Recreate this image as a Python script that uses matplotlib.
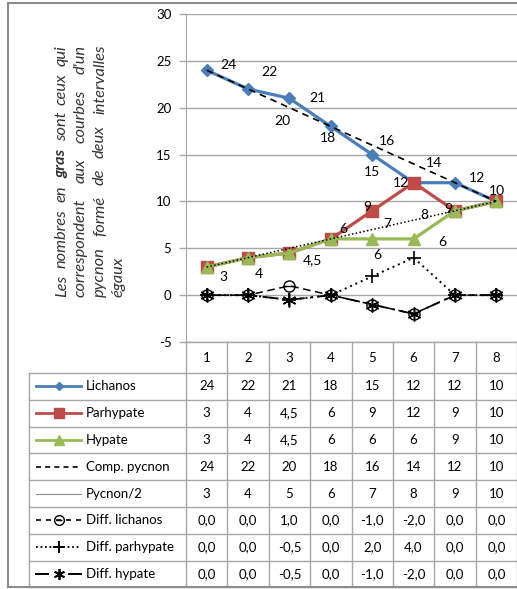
import matplotlib
matplotlib.use('Agg')
import matplotlib.pyplot as plt
from matplotlib.lines import Line2D

# ---------------- data ----------------
categories = [1, 2, 3, 4, 5, 6, 7, 8]
lichanos = [24, 22, 21, 18, 15, 12, 12, 10]
parhypate = [3, 4, 4.5, 6, 9, 12, 9, 10]
hypate = [3, 4, 4.5, 6, 6, 6, 9, 10]
comp_pycnon = [24, 22, 20, 18, 16, 14, 12, 10]
pycnon_half = [3, 4, 5, 6, 7, 8, 9, 10]
diff_lichanos = [0.0, 0.0, 1.0, 0.0, -1.0, -2.0, 0.0, 0.0]
diff_parhypate = [0.0, 0.0, -0.5, 0.0, 2.0, 4.0, 0.0, 0.0]
diff_hypate = [0.0, 0.0, -0.5, 0.0, -1.0, -2.0, 0.0, 0.0]
series_names = ['Lichanos', 'Parhypate', 'Hypate', 'Comp. pycnon', 'Pycnon/2',
                'Diff. lichanos', 'Diff. parhypate', 'Diff. hypate']
yticks = [-5, 0, 5, 10, 15, 20, 25, 30]
note_lines = [
    [('Les', 'normal'), ('nombres', 'normal'), ('en', 'normal'), ('gras', 'bold'),
     ('sont', 'normal'), ('ceux', 'normal'), ('qui', 'normal')],
    [('correspondent', 'normal'), ('aux', 'normal'), ('courbes', 'normal'), ("d'un", 'normal')],
    [('pycnon', 'normal'), ('formé', 'normal'), ('de', 'normal'), ('deux', 'normal'),
     ('intervalles', 'normal')],
    [('égaux', 'normal')],
]

FONT = ['Lato', 'DejaVu Sans']
plt.rcParams['font.family'] = FONT

W, H = 517, 589
fig = plt.figure(figsize=(W / 100, H / 100), dpi=100)


def fx(px):
    return px / W


def fy(py):
    return 1 - py / H


GRID = '#A6A6A6'
BLUE = '#4A7EBB'
RED = '#BE4B48'
GREEN = '#98B954'

AX_L, AX_R, AX_T, AX_B = 186, 517, 14, 342
ax = fig.add_axes([fx(AX_L), fy(AX_B), (AX_R - AX_L) / W, (AX_B - AX_T) / H])
ax.set_xlim(0.5, 8.5)
ax.set_ylim(-5, 30)
ax.set_yticks(yticks)
ax.set_yticklabels([str(v) for v in yticks])
ax.set_xticks([])
for s in ['top', 'right', 'bottom']:
    ax.spines[s].set_visible(False)
ax.spines['left'].set_color(GRID)
ax.tick_params(axis='y', length=5, width=1, color=GRID, pad=5.5, labelsize=9.5)
ax.yaxis.grid(True, color=GRID, lw=1)
ax.set_axisbelow(True)
ax.patch.set_alpha(0)

x = categories
ax.plot(x, lichanos, color=BLUE, lw=2.3, marker='D', ms=6, mfc=BLUE, mec=BLUE, zorder=3)
ax.plot(x, parhypate, color=RED, lw=2.3, marker='s', ms=8, mfc=RED, mec=RED, zorder=3)
ax.plot(x, hypate, color=GREEN, lw=2.3, marker='^', ms=8, mfc=GREEN, mec=GREEN, zorder=3)
ax.plot(x, comp_pycnon, color='black', lw=1.2, ls=(0, (4, 3)), zorder=4)
ax.plot(x, pycnon_half, color='black', lw=1.1, ls=(0, (1, 1.5)), zorder=4)
ax.plot(x, diff_lichanos, color='black', lw=1.1, ls=(0, (5, 3)), marker='o', ms=8,
        mfc='none', mec='black', mew=1.0, zorder=4)
ax.plot(x, diff_lichanos, ls='none', marker='_', ms=6, mec='black', mew=1.0, zorder=4)
ax.plot(x, diff_parhypate, color='black', lw=1.4, ls=(0, (1, 2)), marker='+', ms=10,
        mec='black', mew=1.2, zorder=4)
ax.plot(x, diff_hypate, color='black', lw=1.3, ls=(0, (8, 3, 1.5, 3)), marker=(6, 2, 0),
        ms=10, mec='black', mew=1.1, zorder=4)

series_data = {
    'Lichanos': lichanos, 'Parhypate': parhypate, 'Hypate': hypate,
    'Comp. pycnon': comp_pycnon, 'Pycnon/2': pycnon_half,
}


def fmt(v):
    if float(v).is_integer():
        return str(int(v))
    return ('%g' % v).replace('.', ',')


# data labels: (series, index, dx px, dy px (down positive))
labels = [
    ('Lichanos', 0, 22, -5), ('Lichanos', 1, 21, -17), ('Lichanos', 2, 28, 0),
    ('Lichanos', 3, -3, 12), ('Lichanos', 4, 0, 17), ('Lichanos', 5, -13, 0),
    ('Lichanos', 6, 22, -5), ('Lichanos', 7, 1, -10),
    ('Comp. pycnon', 2, -7, 13), ('Comp. pycnon', 4, 15, -4), ('Comp. pycnon', 5, 20, -1),
    ('Parhypate', 0, 17, 10), ('Parhypate', 1, 11, 16), ('Parhypate', 2, 23, 7),
    ('Parhypate', 3, 12, -10), ('Parhypate', 4, -5, -4), ('Parhypate', 6, -7, -2),
    ('Hypate', 4, 5, 16), ('Hypate', 5, 29, 3),
    ('Pycnon/2', 4, 15, -6), ('Pycnon/2', 5, 11, -5),
]
for name, i, dx, dy in labels:
    v = series_data[name][i]
    ax.annotate(fmt(v), (x[i], v), xytext=(dx * 0.72, -dy * 0.72), textcoords='offset points',
                ha='center', va='center', fontsize=10, color='black', zorder=6,
                annotation_clip=False)

# ---------------- table ----------------
TOP_ROW = 373
ROW_H = 26.8
COL_W = (AX_R - AX_L) / 8
TBL_L = 29
BOT = TOP_ROW + 8 * ROW_H


def hline(y, x0, x1, color=GRID, lw=1):
    fig.add_artist(Line2D([fx(x0), fx(x1)], [fy(y), fy(y)], color=color, lw=lw))


def vline(xp, y0, y1, color=GRID, lw=1):
    fig.add_artist(Line2D([fx(xp), fx(xp)], [fy(y0), fy(y1)], color=color, lw=lw))


hline(AX_B, AX_L, AX_R)
for k in range(9):
    hline(TOP_ROW + k * ROW_H, TBL_L, AX_R)
vline(TBL_L, TOP_ROW, BOT)
vline(AX_L, AX_B, BOT)
for k in range(1, 9):
    vline(AX_L + k * COL_W, AX_B, BOT)

for j, c in enumerate(categories):
    fig.text(fx(AX_L + (j + 0.5) * COL_W), fy((AX_B + TOP_ROW) / 2), str(c),
             ha='center', va='center', fontsize=9.5)

rows = [lichanos, parhypate, hypate, comp_pycnon, pycnon_half,
        diff_lichanos, diff_parhypate, diff_hypate]
for r, (name, vals) in enumerate(zip(series_names, rows)):
    yc = TOP_ROW + (r + 0.5) * ROW_H
    for j, v in enumerate(vals):
        if r >= 5:
            s = ('%.1f' % v).replace('.', ',')
        else:
            s = fmt(v)
        fig.text(fx(AX_L + (j + 0.5) * COL_W), fy(yc), s, ha='center', va='center', fontsize=9.5)
    fig.text(fx(86), fy(yc), name, ha='left', va='center', fontsize=9.5)

# legend keys
key_styles = [
    dict(color=BLUE, lw=2.0, marker='D', ms=4, mfc=BLUE, mec=BLUE),
    dict(color=RED, lw=2.0, marker='s', ms=6.5, mfc=RED, mec=RED),
    dict(color=GREEN, lw=2.0, marker='^', ms=6.5, mfc=GREEN, mec=GREEN),
    dict(color='black', lw=1.2, ls=(0, (3, 2.5))),
    dict(color='black', lw=0.8, ls=(0, (0.8, 1))),
    dict(color='black', lw=1.2, ls=(0, (3, 3)), marker='o', ms=7, mfc='none', mec='black', mew=1.0),
    dict(color='black', lw=1.3, ls=(0, (1, 1.5)), marker='+', ms=8, mec='black', mew=1.4),
    dict(color='black', lw=1.4, ls='-', marker=(6, 2, 0), ms=8, mec='black', mew=1.3),
]
for r, st in enumerate(key_styles):
    yc = TOP_ROW + (r + 0.5) * ROW_H
    if r == 7:
        for seg in [(36, 48), (69, 81)]:
            fig.add_artist(Line2D([fx(seg[0]), fx(seg[1])], [fy(yc), fy(yc)], color='black', lw=1.4))
        fig.add_artist(Line2D([fx(58.5)], [fy(yc)], ls='none', marker=(6, 2, 0), ms=8,
                              mec='black', mew=1.3))
        continue
    mk = st.pop('marker', None)
    ms = st.pop('ms', None)
    mfc = st.pop('mfc', None)
    mec = st.pop('mec', None)
    mew = st.pop('mew', 1.0)
    fig.add_artist(Line2D([fx(36), fx(81)], [fy(yc), fy(yc)], **st))
    if mk is not None:
        fig.add_artist(Line2D([fx(58.5)], [fy(yc)], ls='none', marker=mk, ms=ms,
                              mfc=mfc, mec=mec, mew=mew))
        if r == 5:
            fig.add_artist(Line2D([fx(58.5)], [fy(yc)], ls='none', marker='_', ms=5,
                                  mec='black', mew=1.0))

# outer frame
FRAME = '#8C8C8C'
vline(8, 3, 587, color=FRAME, lw=1.5)
hline(3, 8, 517, color=FRAME, lw=1.5)
hline(587, 8, 517, color=FRAME, lw=1.5)

# ---------------- rotated justified note ----------------
renderer = fig.canvas.get_renderer()
NOTE_FS = 11.8


def word_width(w, weight):
    t = fig.text(0, 0, w, fontsize=NOTE_FS, style='italic', weight=weight)
    ext = t.get_window_extent(renderer).width
    t.remove()
    return ext


baselines = [66, 85, 104, 123]
Y_BOT, Y_TOP = 297, 45
for li, words in enumerate(note_lines):
    widths = [word_width(w, wt) for w, wt in words]
    if li < len(note_lines) - 1 and len(words) > 1:
        gap = ((Y_BOT - Y_TOP) - sum(widths)) / (len(words) - 1)
    else:
        gap = word_width(' ', 'normal')
    ypos = Y_BOT
    for (w, wt), wd in zip(words, widths):
        fig.text(fx(baselines[li]), fy(ypos), w, fontsize=NOTE_FS, style='italic', weight=wt,
                 rotation=90, rotation_mode='anchor', ha='left', va='baseline', color='#333333')
        ypos -= wd + gap

fig.savefig('out.png', dpi=100)
